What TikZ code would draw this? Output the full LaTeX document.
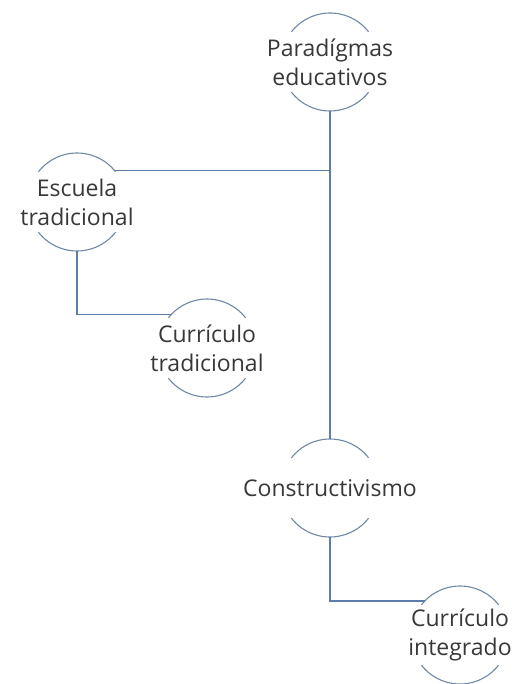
\documentclass[tikz,border=0pt]{standalone}
\usepackage{fontspec}
\setmainfont{Open Sans}
\usepackage{tikz}
\usetikzlibrary{positioning}

\definecolor{rimblue}{RGB}{112,136,166}
\definecolor{linkblue}{RGB}{91,125,168}
\definecolor{txtgray}{RGB}{56,56,56}

\begin{document}
\begin{tikzpicture}[x=1pt, y=1pt,
        bubble/.style={circle, minimum size=98pt, inner sep=0pt, outer sep=0pt},
        caption/.style={font=\fontsize{23}{29}\selectfont, text=txtgray, align=center},
        rim/.style={draw=rimblue, line width=1.1pt},
        link/.style={draw=linkblue, line width=1.4pt},
    ]
        \useasboundingbox (0,0) rectangle (516,-684);

        % Circles
        \node[bubble] (par) at (330,-62) {};
        \node[bubble] (esc) at (77,-202) {};
        \node[bubble] (ct) at (207,-348) {};
        \node[bubble] (con) at (330,-488) {};
        \node[bubble] (ci) at (460,-635) {};

        % Texts
        \node[caption] (par_t) at (par) {Paradígmas\\educativos};
        \node[caption] (esc_t) at (esc) {Escuela\\tradicional};
        \node[caption] (ct_t) at (ct) {Currículo\\tradicional};
        \node[caption] (con_t) at (con) {Constructivismo};
        \node[caption] (ci_t) at (ci) {Currículo\\integrado};

        % Top and bottom arcs of each circle
        \foreach \n in {par,esc,ct,con,ci} {
            \draw[rim] (\n.38) arc[start angle=38, end angle=142, radius=49pt];
            \draw[rim] (\n.218) arc[start angle=218, end angle=322, radius=49pt];
        }

        % Connectors
        \draw[link] (par.south) |- (esc.40);
        \draw[link] (par.south) -- (con.north);
        \draw[link] (esc.south) |- (ct.137);
        \draw[link] (con.south) |- (ci.136);
    \end{tikzpicture}
\end{document}
